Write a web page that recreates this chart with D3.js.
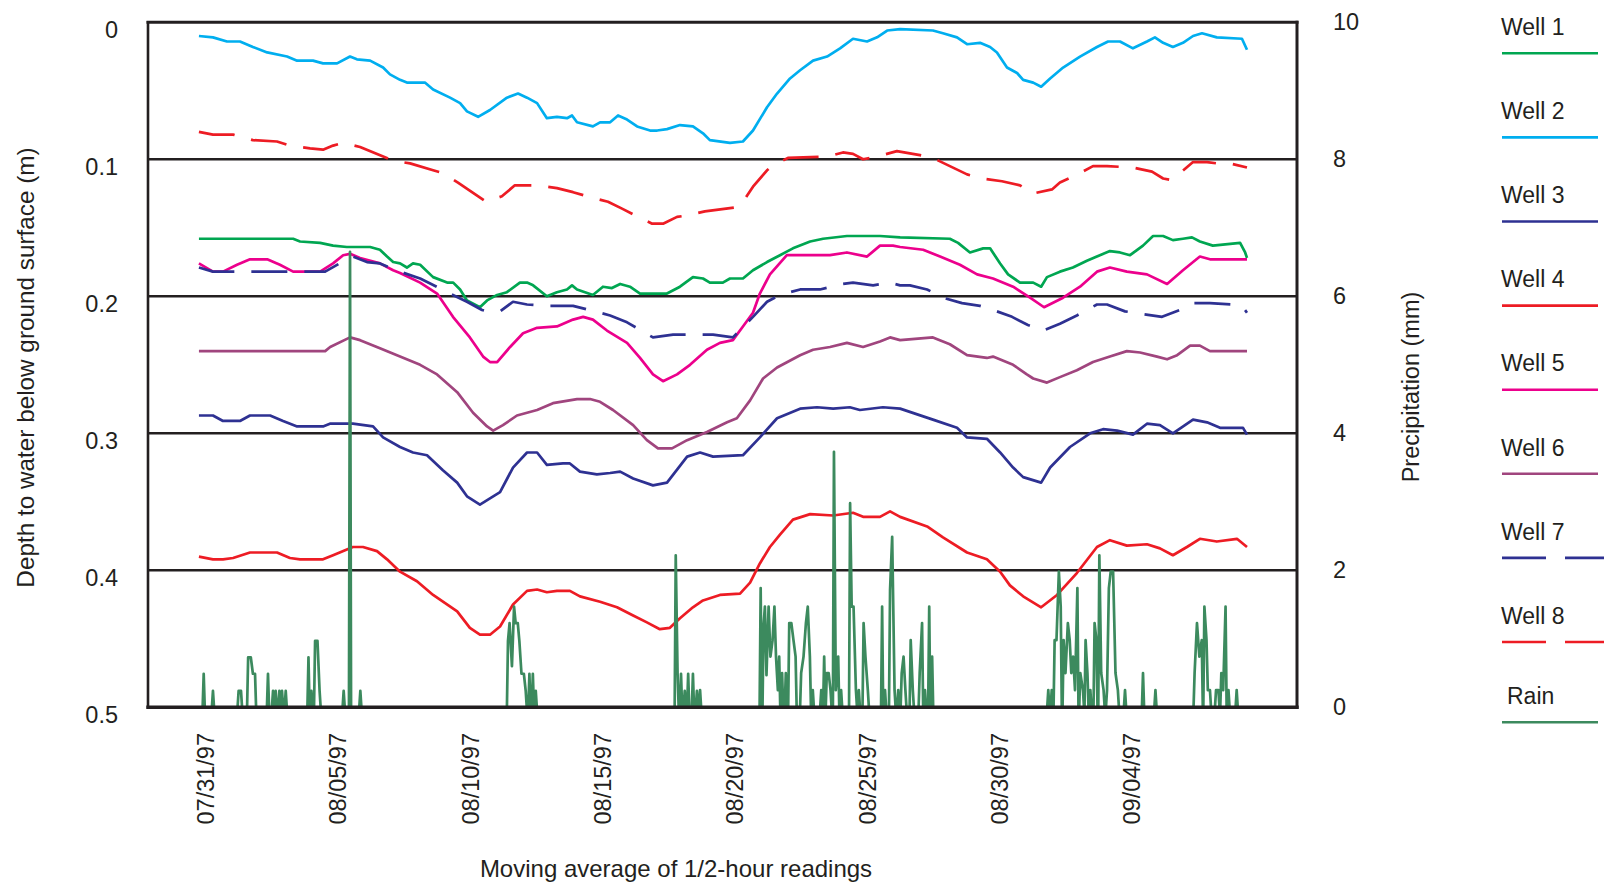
<!DOCTYPE html>
<html><head><meta charset="utf-8">
<script src="https://cdn.jsdelivr.net/npm/d3@7"></script>
<style>
html,body{margin:0;padding:0;background:#fff;}
svg text{font-family:"Liberation Sans",Arial,Helvetica,sans-serif;fill:#231f20;}
</style></head><body>
<svg id="chart" width="1612" height="890"></svg>
<script>
// ---- DATA (days since 07/31/97 00:00, depth in m / rain in mm) ----
const xTickDays = [0,5,10,15,20,25,30,35];
const xTickLabels = ["07/31/97","08/05/97","08/10/97","08/15/97","08/20/97","08/25/97","08/30/97","09/04/97"];
const yTickValues = [0,0.1,0.2,0.3,0.4,0.5];
const yTickLabels = ["0","0.1","0.2","0.3","0.4","0.5"];
const rainTickValues = [0,2,4,6,8,10];
const seriesNames = ["Well 1","Well 2","Well 3","Well 4","Well 5","Well 6","Well 7","Well 8","Rain"];

const well1 = [[-0.29,0.158],[3.27,0.158],[3.53,0.160],[4.29,0.161],[4.78,0.163],[5.30,0.164],[6.18,0.164],[6.55,0.166],[6.82,0.171],[7.05,0.175],[7.31,0.176],[7.57,0.179],[7.80,0.176],[8.07,0.177],[8.56,0.186],[9.09,0.190],[9.32,0.190],[9.58,0.195],[9.84,0.203],[10.33,0.208],[10.60,0.203],[10.98,0.199],[11.35,0.197],[11.84,0.190],[12.11,0.190],[12.34,0.192],[12.86,0.200],[13.24,0.197],[13.62,0.195],[13.81,0.192],[14.00,0.195],[14.60,0.199],[14.98,0.193],[15.32,0.194],[15.63,0.191],[16.00,0.193],[16.38,0.198],[17.40,0.198],[17.89,0.193],[18.38,0.186],[18.76,0.187],[19.02,0.190],[19.51,0.190],[19.78,0.187],[20.27,0.187],[20.65,0.181],[21.18,0.175],[21.67,0.170],[22.16,0.165],[22.81,0.160],[23.30,0.158],[24.20,0.156],[25.45,0.156],[26.21,0.157],[28.09,0.158],[28.40,0.161],[28.85,0.168],[29.35,0.165],[29.61,0.165],[29.99,0.176],[30.29,0.184],[30.74,0.190],[31.24,0.190],[31.54,0.193],[31.76,0.186],[32.25,0.182],[32.74,0.179],[33.27,0.174],[33.76,0.170],[34.14,0.167],[34.52,0.168],[34.90,0.170],[35.39,0.163],[35.77,0.156],[36.15,0.156],[36.52,0.159],[36.90,0.158],[37.24,0.157],[37.54,0.160],[38.03,0.163],[39.06,0.161],[39.25,0.168],[39.32,0.172]];

const well2 = [[-0.29,0.010],[0.24,0.011],[0.77,0.014],[1.26,0.014],[1.75,0.018],[2.29,0.022],[3.04,0.025],[3.42,0.028],[4.02,0.028],[4.40,0.030],[4.93,0.030],[5.42,0.025],[5.68,0.027],[6.18,0.028],[6.67,0.033],[6.93,0.038],[7.31,0.042],[7.57,0.044],[8.25,0.044],[8.56,0.049],[9.20,0.055],[9.58,0.059],[9.84,0.065],[10.26,0.069],[10.71,0.064],[11.35,0.055],[11.77,0.052],[12.11,0.055],[12.49,0.059],[12.86,0.070],[13.24,0.069],[13.62,0.070],[13.81,0.068],[14.00,0.073],[14.60,0.076],[14.87,0.073],[15.25,0.073],[15.55,0.068],[15.89,0.071],[16.27,0.076],[16.76,0.079],[17.03,0.079],[17.40,0.078],[17.89,0.075],[18.38,0.076],[18.76,0.081],[19.02,0.086],[19.78,0.088],[20.27,0.087],[20.65,0.079],[21.18,0.062],[21.56,0.052],[22.05,0.041],[22.43,0.035],[22.92,0.028],[23.45,0.025],[23.94,0.019],[24.43,0.012],[24.96,0.014],[25.34,0.011],[25.72,0.006],[26.21,0.005],[27.45,0.006],[27.83,0.008],[28.36,0.011],[28.74,0.016],[29.23,0.015],[29.61,0.018],[29.87,0.022],[30.25,0.033],[30.63,0.037],[30.86,0.042],[31.24,0.044],[31.54,0.047],[31.88,0.041],[32.37,0.033],[33.01,0.025],[33.65,0.018],[34.07,0.014],[34.52,0.014],[35.01,0.019],[35.54,0.014],[35.84,0.011],[36.15,0.015],[36.52,0.018],[36.90,0.015],[37.28,0.010],[37.62,0.008],[38.18,0.011],[39.13,0.012],[39.32,0.020]];

const well3 = [[-0.29,0.287],[0.24,0.287],[0.62,0.291],[1.26,0.291],[1.64,0.287],[2.40,0.287],[2.89,0.291],[3.42,0.295],[4.40,0.295],[4.66,0.293],[5.53,0.293],[6.29,0.295],[6.67,0.303],[7.31,0.310],[7.80,0.314],[8.33,0.316],[8.93,0.327],[9.47,0.336],[9.84,0.346],[10.33,0.352],[11.09,0.343],[11.58,0.325],[12.11,0.314],[12.49,0.314],[12.86,0.323],[13.47,0.322],[13.73,0.322],[14.11,0.328],[14.75,0.330],[15.25,0.329],[15.63,0.328],[16.12,0.333],[16.87,0.338],[17.40,0.336],[18.16,0.317],[18.65,0.314],[19.14,0.317],[20.27,0.316],[20.91,0.303],[21.56,0.289],[22.43,0.282],[23.07,0.281],[23.68,0.282],[24.31,0.281],[24.69,0.283],[25.56,0.281],[26.21,0.282],[27.45,0.290],[28.36,0.296],[28.74,0.303],[29.49,0.304],[29.99,0.314],[30.48,0.325],[30.86,0.332],[31.54,0.336],[31.88,0.325],[32.63,0.310],[33.39,0.300],[33.88,0.297],[34.41,0.298],[35.01,0.301],[35.54,0.293],[36.03,0.294],[36.52,0.300],[37.28,0.290],[37.81,0.292],[38.30,0.296],[39.17,0.296],[39.32,0.301]];

const well4 = [[-0.29,0.390],[0.24,0.392],[0.62,0.392],[1.00,0.391],[1.64,0.387],[2.66,0.387],[3.15,0.391],[3.53,0.392],[4.40,0.392],[4.78,0.389],[5.53,0.383],[5.91,0.383],[6.44,0.386],[6.82,0.392],[7.31,0.401],[7.95,0.408],[8.56,0.418],[9.47,0.430],[9.95,0.442],[10.33,0.447],[10.71,0.447],[11.09,0.441],[11.58,0.425],[12.11,0.415],[12.49,0.414],[12.86,0.416],[13.24,0.415],[13.73,0.415],[14.11,0.419],[14.87,0.423],[15.51,0.427],[16.12,0.433],[16.64,0.438],[17.13,0.443],[17.51,0.442],[17.89,0.435],[18.38,0.427],[18.76,0.422],[19.40,0.418],[20.16,0.417],[20.54,0.409],[20.91,0.395],[21.29,0.383],[21.67,0.374],[22.16,0.363],[22.81,0.359],[23.68,0.360],[24.43,0.358],[24.81,0.361],[25.45,0.361],[25.83,0.357],[26.21,0.361],[27.23,0.368],[27.83,0.376],[28.74,0.387],[29.49,0.392],[29.99,0.401],[30.36,0.411],[30.86,0.419],[31.54,0.427],[32.14,0.418],[32.89,0.402],[33.65,0.383],[34.14,0.378],[34.78,0.382],[35.54,0.381],[36.03,0.384],[36.52,0.389],[37.05,0.383],[37.54,0.377],[38.18,0.379],[38.94,0.377],[39.32,0.383]];

const well5 = [[-0.29,0.176],[0.24,0.182],[0.62,0.182],[1.15,0.177],[1.64,0.173],[2.29,0.173],[2.77,0.177],[3.27,0.182],[4.29,0.182],[4.78,0.176],[5.16,0.170],[5.42,0.169],[5.80,0.172],[6.55,0.176],[7.05,0.181],[7.31,0.183],[8.07,0.190],[8.71,0.198],[9.31,0.215],[9.95,0.230],[10.45,0.244],[10.71,0.248],[10.98,0.248],[11.47,0.237],[11.96,0.227],[12.49,0.223],[13.24,0.222],[13.85,0.217],[14.23,0.215],[14.60,0.217],[15.13,0.225],[15.89,0.234],[16.38,0.245],[16.87,0.257],[17.25,0.262],[17.78,0.257],[18.27,0.250],[18.91,0.239],[19.40,0.234],[19.89,0.232],[20.27,0.222],[20.65,0.212],[20.91,0.198],[21.29,0.184],[21.93,0.170],[23.56,0.170],[24.20,0.168],[24.96,0.171],[25.45,0.163],[25.94,0.163],[26.21,0.164],[27.08,0.166],[27.72,0.171],[28.47,0.177],[29.12,0.184],[29.72,0.187],[30.48,0.193],[31.12,0.201],[31.65,0.208],[32.37,0.201],[33.01,0.193],[33.65,0.182],[34.14,0.179],[34.78,0.182],[35.54,0.184],[36.30,0.191],[36.90,0.181],[37.54,0.171],[37.92,0.173],[39.32,0.173]];

const well6 = [[-0.29,0.240],[4.48,0.240],[4.67,0.237],[5.42,0.230],[5.80,0.232],[6.55,0.238],[7.31,0.244],[8.07,0.250],[8.71,0.257],[9.47,0.270],[10.07,0.285],[10.60,0.295],[10.83,0.298],[11.20,0.294],[11.73,0.287],[12.49,0.283],[13.09,0.278],[14.00,0.275],[14.49,0.275],[14.87,0.277],[15.36,0.283],[16.12,0.294],[16.64,0.305],[17.06,0.311],[17.59,0.311],[18.16,0.305],[18.91,0.299],[19.67,0.292],[20.04,0.289],[20.54,0.276],[21.03,0.260],[21.56,0.252],[22.43,0.243],[22.92,0.239],[23.56,0.237],[24.20,0.234],[24.81,0.237],[25.45,0.233],[25.83,0.230],[26.21,0.232],[27.45,0.230],[28.09,0.235],[28.74,0.243],[29.49,0.245],[29.72,0.244],[30.48,0.250],[31.00,0.257],[31.24,0.260],[31.76,0.263],[32.25,0.259],[32.89,0.254],[33.50,0.248],[34.14,0.244],[34.78,0.240],[35.28,0.241],[35.92,0.244],[36.30,0.246],[36.68,0.243],[37.17,0.236],[37.54,0.236],[37.92,0.240],[39.32,0.240]];

const well7 = [[-0.29,0.179],[0.24,0.182],[1.26,0.182],[1.98,0.182],[3.61,0.182],[4.48,0.182],[5.30,0.173],[5.53,0.171],[6.06,0.175],[6.55,0.176],[7.31,0.182],[8.07,0.187],[9.20,0.198],[9.84,0.204],[10.41,0.210],[10.60,0.211],[11.09,0.211],[11.58,0.204],[12.11,0.206],[12.98,0.207],[13.85,0.207],[14.87,0.212],[15.25,0.214],[15.89,0.219],[16.87,0.230],[17.63,0.228],[19.14,0.228],[19.89,0.230],[20.65,0.215],[21.18,0.204],[21.67,0.199],[22.43,0.195],[23.18,0.195],[24.05,0.191],[24.43,0.190],[25.19,0.192],[25.83,0.190],[26.21,0.192],[26.58,0.192],[27.23,0.195],[27.83,0.201],[28.55,0.205],[29.23,0.207],[29.87,0.211],[30.44,0.215],[31.04,0.221],[31.61,0.225],[32.25,0.220],[32.89,0.214],[33.65,0.206],[34.03,0.206],[34.71,0.211],[35.39,0.213],[36.11,0.215],[36.79,0.210],[37.28,0.205],[37.92,0.205],[38.79,0.206],[39.13,0.207],[39.32,0.212]];

const well8 = [[-0.29,0.080],[0.24,0.082],[1.00,0.082],[1.75,0.086],[2.66,0.087],[3.15,0.090],[3.91,0.092],[4.40,0.093],[4.78,0.090],[5.16,0.088],[5.80,0.091],[7.05,0.101],[7.69,0.103],[8.56,0.108],[8.93,0.110],[9.50,0.117],[10.56,0.131],[11.16,0.127],[11.65,0.119],[12.49,0.119],[13.24,0.121],[13.85,0.124],[14.57,0.128],[15.17,0.131],[15.70,0.136],[16.31,0.142],[16.84,0.147],[17.25,0.147],[17.78,0.142],[18.16,0.141],[18.83,0.138],[20.04,0.135],[20.27,0.131],[20.65,0.120],[21.18,0.108],[21.37,0.105],[21.97,0.099],[23.45,0.098],[24.05,0.095],[24.43,0.096],[24.81,0.100],[25.34,0.098],[26.09,0.094],[26.96,0.097],[27.45,0.099],[28.09,0.105],[28.74,0.111],[29.30,0.114],[30.06,0.116],[30.74,0.119],[31.23,0.125],[31.95,0.122],[32.25,0.117],[33.01,0.110],[33.50,0.105],[34.03,0.105],[35.01,0.106],[35.73,0.109],[36.15,0.114],[36.41,0.115],[36.79,0.110],[37.28,0.102],[37.81,0.102],[38.18,0.103],[38.67,0.103],[39.32,0.106]];

// rain record: first/last reading, then non-zero half-hour readings [day, mm]
const rainSpan = [-0.29, 39.32];
const rain = [[-0.11,0.49],[0.24,0.24],[1.21,0.24],[1.30,0.24],[1.57,0.73],[1.67,0.73],[1.75,0.49],[1.83,0.49],[2.32,0.49],[2.51,0.24],[2.61,0.24],[2.75,0.24],[2.85,0.24],[2.99,0.24],[3.85,0.73],[3.96,0.24],[4.10,0.97],[4.19,0.97],[4.27,0.24],[5.18,0.24],[5.42,6.65],[5.81,0.24],
[11.39,0.97],[11.45,1.23],[11.54,0.60],[11.62,1.47],[11.68,1.23],[11.76,1.23],[11.82,0.97],[11.90,0.49],[11.99,0.49],[12.06,0.24],[12.20,0.49],[12.33,0.49],[12.44,0.24],
[17.73,2.22],[17.80,0.49],[17.93,0.49],[18.07,0.24],[18.20,0.49],[18.38,0.49],[18.53,0.24],[18.65,0.25],
[20.94,1.74],[21.05,1.20],[21.10,1.47],[21.16,0.47],[21.24,1.47],[21.31,0.74],[21.39,0.98],[21.46,1.47],[21.52,0.74],[21.59,0.25],[21.64,0.74],[21.75,0.50],[21.89,0.50],[22.02,1.23],[22.10,1.23],[22.18,0.98],[22.26,0.74],[22.47,0.50],[22.56,0.74],[22.65,1.23],[22.72,1.47],[22.80,0.74],[22.91,0.25],[23.23,0.25],[23.34,0.74],[23.44,0.50],[23.51,0.50],[23.58,0.25],[23.71,3.73],[23.78,0.25],[23.87,0.74],[23.98,0.25],[24.32,2.98],[24.38,1.47],[24.45,1.47],[24.54,0.25],[24.65,0.25],[24.83,1.23],[24.90,0.74],[24.99,0.25],[25.53,1.47],[25.64,0.25],[25.83,1.71],[25.91,2.49],[26.00,0.25],[26.14,0.25],[26.27,0.50],[26.34,0.74],[26.41,0.25],[26.61,0.98],[26.69,0.25],[26.95,0.50],[27.04,1.23],[27.15,0.25],[27.31,1.47],[27.42,0.74],
[31.81,0.25],[31.94,0.25],[32.05,0.98],[32.12,0.98],[32.21,1.98],[32.28,1.47],[32.39,0.98],[32.46,0.50],[32.55,1.23],[32.62,0.98],[32.68,0.50],[32.75,0.74],[32.82,0.25],[32.91,1.74],[33.02,0.50],[33.12,0.25],[33.22,0.98],[33.29,0.50],[33.40,0.25],[33.56,1.23],[33.63,0.98],[33.74,2.22],[33.81,0.50],[33.90,0.25],[34.03,0.25],[34.10,1.74],[34.17,1.98],[34.26,1.98],[34.35,0.50],[34.44,0.25],[34.71,0.25],[35.39,0.50],[35.86,0.25],
[37.34,0.50],[37.43,1.23],[37.52,0.74],[37.61,0.98],[37.71,1.47],[37.79,0.98],[37.84,0.25],[37.92,0.25],[38.15,0.25],[38.24,0.25],[38.35,0.50],[38.42,0.25],[38.51,1.47],[38.62,0.25],[38.93,0.25]];

// ---- STYLES ----
const wellData = [well1, well2, well3, well4, well5, well6, well7, well8];
const colors = ["#00a651","#00aeef","#2e3192","#ed1c24","#ec008c","#a0457e","#2e3192","#ed1c24","#3c8a5e"];
const plotDash = [null,null,null,null,null,null,"36,17","36,17",null];
const legendDash = [null,null,null,null,null,null,"44,19","44,19",null];

const svg = d3.select("#chart");
const L = 148, R = 1297, T = 22.3, B = 707.3;
const x = d3.scaleLinear().domain([-2.215, 41.21]).range([L, R]);
const y = d3.scaleLinear().domain([0, 0.5]).range([T, B]);
const yR = d3.scaleLinear().domain([0, 10]).range([B, T]);
const ink = "#231f20";

// gridlines
svg.append("g").selectAll("line").data(yTickValues.filter(v => v > 0 && v < 0.5)).join("line")
  .attr("x1", L).attr("x2", R).attr("y1", d => y(d)).attr("y2", d => y(d))
  .attr("stroke", ink).attr("stroke-width", 2.4);

// wells
const line = d3.line().x(d => x(d[0])).y(d => y(d[1]));
const wg = svg.append("g").attr("fill", "none");
wellData.forEach((w, i) => {
  wg.append("path").attr("d", line(w)).attr("stroke", colors[i]).attr("stroke-width", 2.7)
    .attr("stroke-linejoin", "round").attr("stroke-dasharray", plotDash[i]);
});

// rain (zero between separated readings)
const rainPts = [[rainSpan[0], 0]];
rain.forEach((r, i) => {
  const prev = i ? rain[i-1][0] : rainSpan[0] - 1;
  if (r[0] - prev > 0.1) { if (i) rainPts.push([prev + 0.04, 0]); rainPts.push([r[0] - 0.04, 0]); }
  rainPts.push(r);
});
rainPts.push([rain[rain.length-1][0] + 0.04, 0]);
rainPts.push([rainSpan[1], 0]);
const rainLine = d3.line().x(d => x(d[0])).y(d => yR(d[1]));
svg.append("path").attr("d", rainLine(rainPts)).attr("fill", "none").attr("stroke", colors[8])
  .attr("stroke-width", 2.7).attr("stroke-linejoin", "round");

// frame
const fr = svg.append("g").attr("stroke", ink).attr("stroke-linecap", "square");
fr.append("line").attr("x1", L).attr("x2", R).attr("y1", T).attr("y2", T).attr("stroke-width", 3);
fr.append("line").attr("x1", L).attr("x2", R).attr("y1", B).attr("y2", B).attr("stroke-width", 3.4);
fr.append("line").attr("x1", L).attr("x2", L).attr("y1", T).attr("y2", B).attr("stroke-width", 2.6);
fr.append("line").attr("x1", R).attr("x2", R).attr("y1", T).attr("y2", B).attr("stroke-width", 3);

// left axis
const ax = svg.append("g").attr("transform", "translate(118,8)")
  .call(d3.axisLeft(y).tickValues(yTickValues).tickSize(0).tickPadding(0).tickFormat((d, i) => yTickLabels[i]));
ax.select(".domain").remove();
ax.selectAll("text").style("font-size", "23.5px").attr("fill", ink);

// right axis
const axr = svg.append("g").attr("transform", "translate(1333,0)")
  .call(d3.axisRight(yR).tickValues(rainTickValues).tickSize(0).tickPadding(0));
axr.select(".domain").remove();
axr.selectAll("text").style("font-size", "23.5px").attr("fill", ink);

// bottom axis
const axb = svg.append("g").attr("transform", "translate(-1.5,733)")
  .call(d3.axisBottom(x).tickValues(xTickDays).tickSize(0).tickFormat((d, i) => xTickLabels[i]));
axb.select(".domain").remove();
axb.selectAll("text").attr("transform", "rotate(-90)").attr("text-anchor", "end")
  .attr("x", 0).attr("y", 0).attr("dy", "0.36em").style("font-size", "23.5px").attr("fill", ink);

// axis titles
svg.append("text").attr("transform", "translate(25,367.5) rotate(-90)").attr("text-anchor", "middle")
  .attr("dy", "0.35em").style("font-size", "24.3px").text("Depth to water below ground surface (m)");
svg.append("text").attr("transform", "translate(1410.5,387) rotate(-90)").attr("text-anchor", "middle")
  .attr("dy", "0.35em").style("font-size", "23.5px").text("Precipitation (mm)");
svg.append("text").attr("x", 676).attr("y", 877).attr("text-anchor", "middle")
  .style("font-size", "24px").text("Moving average of 1/2-hour readings");

// legend
const lg = svg.append("g");
seriesNames.forEach((n, i) => {
  const ly = i < 8 ? 53.3 + i * 84.1 : 722.3;
  lg.append("text").attr("x", i < 8 ? 1501 : 1507).attr("y", ly - 18.3).style("font-size", "23px").text(n);
  lg.append("line").attr("x1", 1502).attr("x2", i >= 6 && i < 8 ? 1604 : 1598).attr("y1", ly).attr("y2", ly)
    .attr("stroke", colors[i]).attr("stroke-width", 2.6).attr("stroke-dasharray", legendDash[i]);
});
</script>
</body></html>
